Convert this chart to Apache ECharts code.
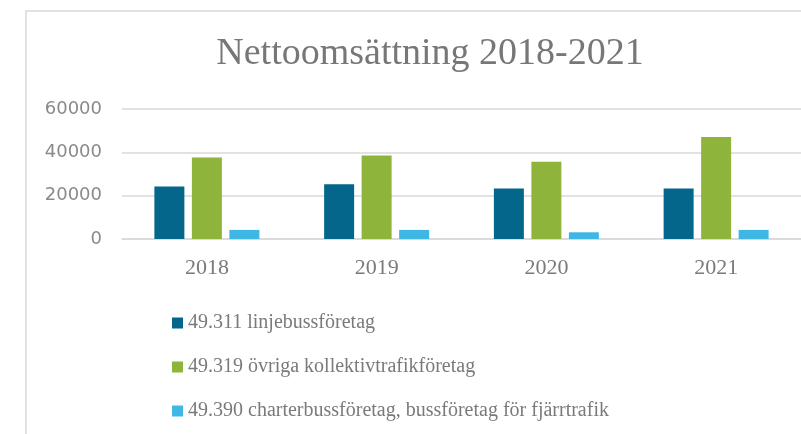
<!DOCTYPE html>
<html>
<head>
<meta charset="utf-8">
<script src="https://cdn.jsdelivr.net/npm/echarts@6/dist/echarts.min.js"></script>
<style>
  html, body { margin: 0; padding: 0; background: #fff; }
  #chart { width: 801px; height: 434px; }
</style>
</head>
<body>
<div id="chart"></div>
<script>
  // år
  const years = ['2018', '2019', '2020', '2021'];
  // nettoomsättning per branschkod
  const linjebuss = [24200, 25300, 23300, 23300];
  const ovrigaKollektiv = [37600, 38500, 35700, 47100];
  const charterbuss = [4200, 4200, 3100, 4200];
  const seriesNames = [
    '49.311 linjebussföretag',
    '49.319 övriga kollektivtrafikföretag',
    '49.390 charterbussföretag, bussföretag för fjärrtrafik'
  ];
  const yTicks = [0, 20000, 40000, 60000];

  const colors = ['#03668a', '#8fb43c', '#3fb7e5'];
  const serif = '"Liberation Serif", "DejaVu Serif", serif';

  let chart = echarts.init(document.getElementById('chart'));
  chart.setOption({
    animation: false,
    color: colors,
    title: {
      text: 'Nettoomsättning 2018-2021',
      left: 425,
      top: 30,
      textAlign: 'center',
      textStyle: {
        fontFamily: serif,
        fontWeight: 'normal',
        fontSize: 38,
        color: '#777777'
      }
    },
    graphic: [{
      type: 'rect',
      silent: true,
      shape: { x: 26, y: 11, width: 800, height: 440 },
      style: { fill: 'none', stroke: '#d9d9d9', lineWidth: 1.5 }
    }],
    legend: {
      orient: 'vertical',
      left: 172,
      top: 313,
      padding: 0,
      itemWidth: 11,
      itemHeight: 11,
      itemGap: 24,
      icon: 'rect',
      textStyle: {
        fontFamily: serif,
        fontSize: 20,
        color: '#7a7a7a'
      },
      data: seriesNames
    },
    grid: {
      left: 122,
      width: 682,
      top: 109,
      height: 130
    },
    xAxis: {
      type: 'category',
      data: years,
      axisLine: { lineStyle: { color: '#d9d9d9', width: 1.5 } },
      axisTick: { show: false },
      axisLabel: {
        margin: 18,
        fontFamily: serif,
        fontSize: 22,
        color: '#7a7a7a'
      }
    },
    yAxis: {
      type: 'value',
      min: yTicks[0],
      max: yTicks[yTicks.length - 1],
      interval: yTicks[1] - yTicks[0],
      axisLine: { show: false },
      axisTick: { show: false },
      splitLine: { lineStyle: { color: '#d9d9d9', width: 1.5 } },
      axisLabel: {
        margin: 20,
        formatter: v => String(v),
        fontFamily: '"DejaVu Sans", sans-serif',
        fontSize: 18,
        color: '#8a8a8a'
      }
    },
    series: [{
      type: 'bar',
      name: seriesNames[0],
      barWidth: 30,
      barGap: '25%',
      data: linjebuss
    }, {
      type: 'bar',
      name: seriesNames[1],
      barWidth: 30,
      barGap: '25%',
      data: ovrigaKollektiv
    }, {
      type: 'bar',
      name: seriesNames[2],
      barWidth: 30,
      barGap: '25%',
      data: charterbuss
    }]
  });
</script>
</body>
</html>
